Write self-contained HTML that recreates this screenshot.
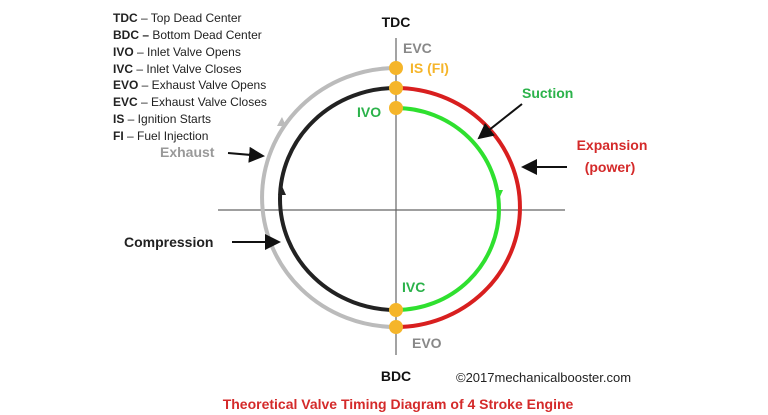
<!DOCTYPE html>
<html><head><meta charset="utf-8"><style>
body{margin:0;background:#fff;width:768px;height:415px;overflow:hidden}
svg{display:block;font-family:"Liberation Sans",sans-serif}
</style></head><body>
<svg width="768" height="415" viewBox="0 0 768 415">
<defs>
<marker id="ah" markerWidth="8" markerHeight="8" refX="7" refY="4" orient="auto"><path d="M0,0 L8,4 L0,8 z" fill="#111"/></marker>
</defs>
<g font-size="12" fill="#222">
<text x="113" y="22"><tspan font-weight="bold">TDC</tspan> – Top Dead Center</text>
<text x="113" y="39"><tspan font-weight="bold">BDC –</tspan> Bottom Dead Center</text>
<text x="113" y="56"><tspan font-weight="bold">IVO</tspan> – Inlet Valve Opens</text>
<text x="113" y="73"><tspan font-weight="bold">IVC</tspan> – Inlet Valve Closes</text>
<text x="113" y="89"><tspan font-weight="bold">EVO</tspan> – Exhaust Valve Opens</text>
<text x="113" y="106"><tspan font-weight="bold">EVC</tspan> – Exhaust Valve Closes</text>
<text x="113" y="123"><tspan font-weight="bold">IS</tspan> – Ignition Starts</text>
<text x="113" y="140"><tspan font-weight="bold">FI</tspan> – Fuel Injection</text>
</g>
<line x1="396" y1="38" x2="396" y2="355" stroke="#666" stroke-width="1.2"/>
<line x1="218" y1="210" x2="565" y2="210" stroke="#666" stroke-width="1.2"/>
<g fill="none" stroke-width="4">
<path d="M396,68 A134,129.5 0 0 0 396,327" stroke="#bbb"/>
<path d="M396,88 A124,119.5 0 0 1 396,327" stroke="#d81f1f"/>
<path d="M396,88 A116,111 0 0 0 396,310" stroke="#222"/>
<path d="M396,108 A103,101 0 0 1 396,310" stroke="#2fe02f"/>
</g>
<path d="M282,117 l-5,9 h9z" fill="#bbb"/>
<path d="M282,186 l-4,9 h8z" fill="#222"/>
<path d="M499,199 l-4,-9 h8z" fill="#2fe02f"/>
<g fill="#f5b52a">
<circle cx="396" cy="68" r="7"/><circle cx="396" cy="88" r="7"/><circle cx="396" cy="108" r="7"/>
<circle cx="396" cy="310" r="7"/><circle cx="396" cy="327" r="7"/>
</g>
<g stroke="#111" stroke-width="2" marker-end="url(#ah)">
<line x1="228" y1="153" x2="263" y2="156"/>
<line x1="522" y1="104" x2="479" y2="138"/>
<line x1="567" y1="167" x2="523" y2="167"/>
<line x1="232" y1="242" x2="279" y2="242"/>
</g>
<g font-weight="bold" font-size="14">
<text x="396" y="27" text-anchor="middle" fill="#111">TDC</text>
<text x="396" y="381" text-anchor="middle" fill="#111">BDC</text>
<text x="403" y="53" fill="#888">EVC</text>
<text x="410" y="73" fill="#f5b52a">IS (FI)</text>
<text x="357" y="117" fill="#2bb24a">IVO</text>
<text x="402" y="292" fill="#2bb24a">IVC</text>
<text x="412" y="348" fill="#888">EVO</text>
<text x="522" y="98" fill="#2bb24a">Suction</text>
<text x="612" y="150" text-anchor="middle" fill="#d42a2a">Expansion</text>
<text x="610" y="172" text-anchor="middle" fill="#d42a2a">(power)</text>
<text x="160" y="157" fill="#999">Exhaust</text>
<text x="124" y="247" fill="#222">Compression</text>
</g>
<text x="456" y="382" font-size="13" fill="#222">©2017mechanicalbooster.com</text>
<text x="398" y="409" text-anchor="middle" font-size="14" font-weight="bold" fill="#d42a2a">Theoretical Valve Timing Diagram of 4 Stroke Engine</text>
</svg>
</body></html>
